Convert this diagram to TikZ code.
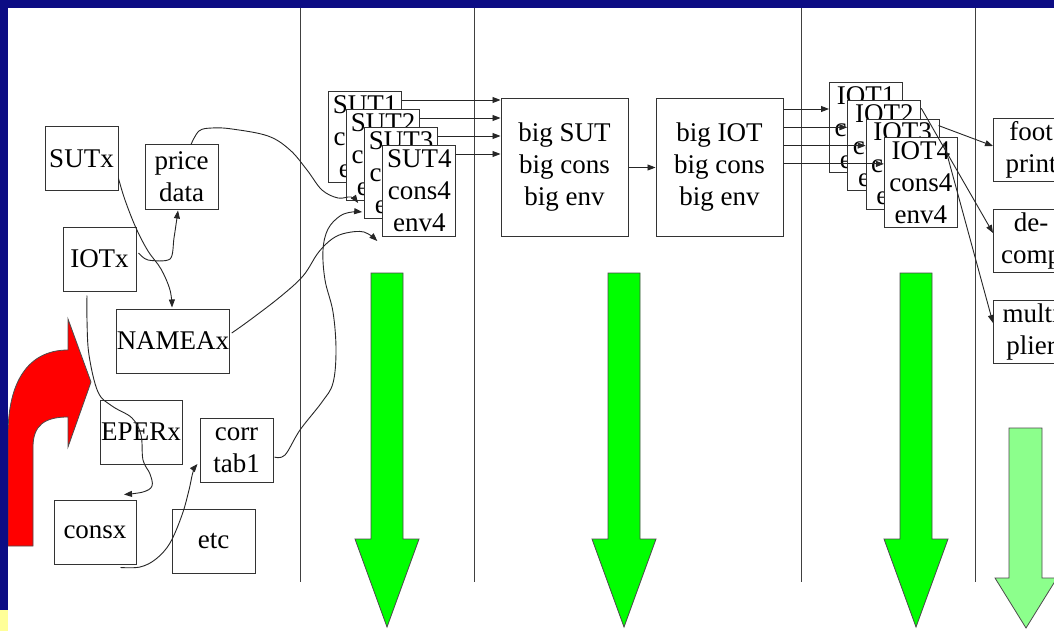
\documentclass[tikz,border=0pt]{standalone}
\usepackage{fontspec}
\setmainfont{Liberation Serif}
\usetikzlibrary{arrows.meta,calc}
\definecolor{slideblue}{RGB}{12,12,132}
\definecolor{slideyellow}{RGB}{255,255,153}
\definecolor{flowgreen}{RGB}{0,255,0}
\definecolor{palegreen}{RGB}{140,255,140}
\tikzset{>={Triangle[length=8pt,width=6pt]},
    box/.style={draw=black!80, line width=1pt, fill=white, inner sep=0pt,
        align=center, font=\fontsize{27}{32}\selectfont,
        minimum width=73pt, minimum height=64pt},
    stackbox/.style={box, anchor=north west, minimum height=91pt},
    bigbox/.style={box, minimum width=127pt, minimum height=137pt},
    sidebox/.style={box, anchor=north west, minimum width=75pt, minimum height=63pt},
    wire/.style={black!85, line width=0.9pt},
    divider/.style={black!75, line width=1pt},
    downarrow/.style={draw=black!70, line width=0.8pt, fill=flowgreen},
}

\begin{document}
\begin{tikzpicture}[x=1pt,y=-1pt]
    \useasboundingbox (0,0) rectangle (1054,631);
    \fill[white] (0,0) rectangle (1054,631);
    % column dividers
    \foreach \x in {300,474,801,975}
        \draw[divider] (\x,8) -- (\x,582);
    % flow arrows
    \foreach \cx in {387,624,916}
        \draw[downarrow] (\cx-16,273) -- (\cx+16,273) -- (\cx+16,539) -- (\cx+32,539)
            -- (\cx,627) -- (\cx-32,539) -- (\cx-16,539) -- cycle;
    \draw[downarrow, fill=palegreen] (1009,428) -- (1042,428) -- (1042,578) -- (1057,578)
        -- (1026,628) -- (995,578) -- (1009,578) -- cycle;
    % bent red arrow
    \draw[draw=black!70, line width=0.8pt, fill=red] (8,546) -- (8,435)
        .. controls (8,382) and (28,350) .. (68,350) -- (68,319) -- (91,382) -- (68,447)
        -- (68,417) .. controls (45,417) and (33,425) .. (33,447) -- (33,546) -- cycle;

    % source tables
    \node[box] (sutx) at (81.5,158.5) {SUTx};
    \node[box] (price) at (181.5,177) {price\\data};
    \node[box] (iotx) at (99.5,259) {IOTx};
    \node[box, minimum width=110pt] (nameax) at (173,341) {NAMEAx};
    \node[box, minimum width=82pt] (eperx) at (141,432) {EPERx};
    \node[box] (corr) at (236.5,450) {corr\\tab1};
    \node[box, minimum width=82pt] (consx) at (95,532) {consx};
    \node[box, minimum width=83pt] (etc) at (213.5,541) {etc};

    % stacked tables
    \foreach \k in {1,...,4}
        \node[stackbox] (sut\k) at (328+18.1*\k-18.1,91+18*\k-18) {SUT\k\\cons\k\\env\k};
    \node[bigbox] (bigsut) at (564.5,167.5) {big SUT\\big cons\\big env};
    \node[bigbox] (bigiot) at (719.5,167.5) {big IOT\\big cons\\big env};
    \foreach \k in {1,...,4}
        \node[stackbox, minimum height=90pt] (iot\k) at (829+18.3*\k-18.3,82+18.3*\k-18.3) {IOT\k\\cons\k\\env\k};

    % results
    \node[sidebox] (foot) at (993,118) {foot\\print};
    \node[sidebox] (decomp) at (993,209) {de-\\comp};
    \node[sidebox] (multi) at (993,300) {multi\\plier};

    % straight links
    \foreach \k in {1,...,4} {
        \coordinate (s\k) at ($(sut\k.north east)+(0,9)$);
        \draw[wire,->] (s\k) -- (s\k -| bigsut.west);
        \coordinate (t\k) at ($(iot\k.north west)+(0,27)$);
        \draw[wire,->] (t\k -| bigiot.east) -- (t\k);
    }
    \draw[wire,->] (bigsut.east) -- (bigiot.west);
    \draw[wire,->] ($(iot3.north east)+(-1,7)$) -- ($(foot.west)+(0,-4)$);
    \draw[wire,->] ($(iot2.north east)+(0,8)$) -- ($(decomp.west)+(0,-8)$);
    \draw[wire,->] ($(iot4.north east)+(-14,6)$) -- ($(multi.west)+(0,-9)$);

    % hand drawn links
    \draw[wire,->] plot[smooth, tension=0.6] coordinates {($(sutx.east)+(0,20)$)
        (125,200) (136,228) (148,251) (161,269) (170,290) ($(nameax.north)+(-1,-1)$)};
    \draw[wire,->] plot[smooth, tension=0.5] coordinates {($(iotx.east)+(2,-6)$)
        (148,260) (170,259) (174,238) ($(price.south)+(-3.5,1)$)};
    \draw[wire,->] plot[smooth, tension=0.6] coordinates {($(price.north)+(9.5,0)$)
        (199,131) (212,128) (232,129) (268,136) (290,150) (307,170) (322,190) (338,198)
        (351,197) ($(sut2.south west)+(12,2)$)};
    \draw[wire,->] plot[smooth, tension=0.6] coordinates {($(nameax.east)+(2,-8)$)
        (250,320) (280,297) (303,276) (318,253) (332,239) (346,233) (364,232)
        ($(sut4.south west)+(-5,4)$)};
    \draw[wire,->] plot[smooth, tension=0.6] coordinates {($(corr.east)+(1,7)$)
        (285,455) (300,430) (322,402) (333,383) (336,350) (333,312) (325,280) (323,250)
        (328,229) (340,216) (352,212) ($(sut3.south west)+(-2,-7)$)};
    \draw[wire,->] plot[smooth, tension=0.6] coordinates {($(iotx.south)+(-12.5,4)$)
        (87,320) (89,355) (98,392) (112,406) (132,418) (141,435) (143,460) (150,474)
        (152,486) (143,492) ($(consx.north)+(29,-5)$)};
    \draw[wire,->] plot[smooth, tension=0.6] coordinates {($(consx.south east)+(-16,3)$)
        (140,567) (156,559) (170,543) (182,515) (189,490) (193,472)
        ($(corr.west)+(-2,14)$)};

    % slide frame
    \fill[slideblue] (0,0) rectangle (1054,8);
    \fill[slideblue] (0,0) rectangle (8,610);
    \fill[slideyellow] (0,610) rectangle (8,631);
\end{tikzpicture}
\end{document}
